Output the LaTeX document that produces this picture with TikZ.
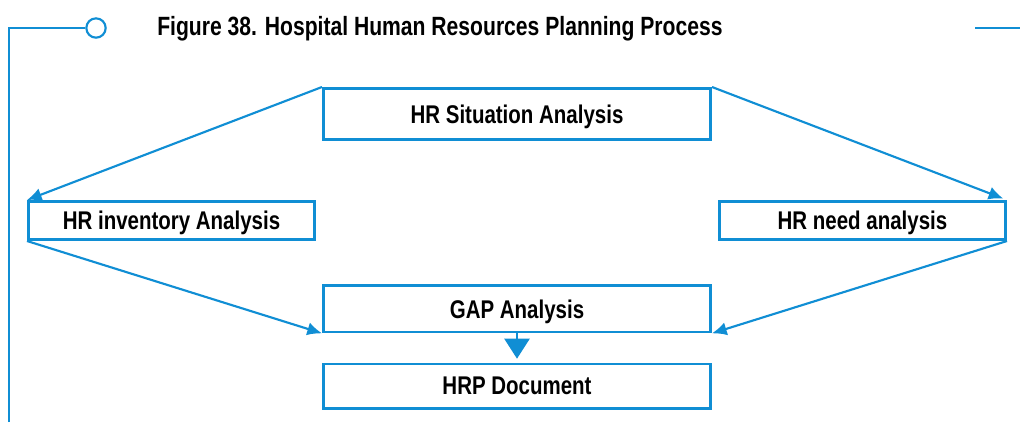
\documentclass[tikz,border=0pt]{standalone}
\usepackage{fontspec}
\setmainfont{Liberation Sans}[FakeStretch=0.8]
\usepackage{xcolor}
\usetikzlibrary{arrows.meta, positioning}
\definecolor{hrblue}{RGB}{16,142,212}

\begin{document}
\begin{tikzpicture}[x=0.75pt, y=-0.75pt,
    node distance=20pt,
    box/.style={rectangle, draw=hrblue, line width=2pt, fill=white, minimum width=290.5pt, minimum height=38.5pt, align=center, inner sep=0pt, text depth=0pt, font=\bfseries\fontsize{19.2}{22}\selectfont},
    sidebox/.style={box, minimum width=214.75pt, minimum height=28.75pt},
    arr/.style={-{Latex[length=11pt, width=10pt]}, draw=hrblue, line width=1.6pt},
    bigarr/.style={-{Triangle[length=15pt, width=19pt]}, draw=hrblue, fill=hrblue, line width=1pt},
    deco/.style={draw=hrblue, line width=1.6pt},
]
    \useasboundingbox (0,0) rectangle (1020,422);

    % frame decoration and title
    \node[circle, deco, minimum size=14.5pt, inner sep=0pt] (knob) at (96,28) {};
    \coordinate (corner) at (9,28);
    \coordinate (foot) at (9,422);
    \coordinate (rstart) at (975,28);
    \coordinate (rend) at (1020,28);
    \draw[deco] (foot) -- (corner) -- (knob.west);
    \draw[deco] (rstart) -- (rend);
    \node[anchor=west, inner sep=0pt, font=\bfseries\fontsize{19.8}{22}\selectfont] (title) at (157,29) {Figure 38. Hospital Human Resources Planning Process};

    % boxes
    \node[box] (sit) at (517,114) {HR Situation Analysis};
    \node[sidebox] (inv) at (171.5,220.5) {HR inventory Analysis};
    \node[sidebox] (need) at (862.5,220.5) {HR need analysis};
    \node[box, minimum height=34.75pt, below=107.5pt of sit] (gap) {GAP Analysis};
    \node[box, minimum height=33.25pt, below=22pt of gap] (hrp) {HRP Document};

    % connectors
    \draw[arr] (sit.north west) -- (inv.north west);
    \draw[arr, shorten >=3pt] (sit.north east) -- (need.north east);
    \draw[arr] (inv.south west) -- (gap.south west);
    \draw[arr] (need.south east) -- (gap.south east);
    \draw[bigarr, shorten >=3pt] (gap.south) -- (hrp.north);
\end{tikzpicture}
\end{document}
